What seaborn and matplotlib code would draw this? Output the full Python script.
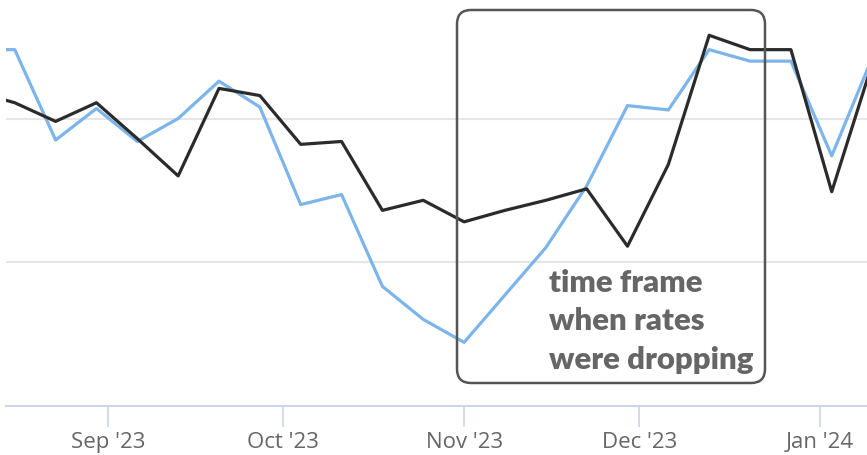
import matplotlib
matplotlib.use("Agg")
import matplotlib.pyplot as plt
import matplotlib.dates as mdates
import matplotlib.transforms as mtransforms
from matplotlib.patches import FancyBboxPatch
import numpy as np
import pandas as pd
import seaborn as sns

# weekly readings (arbitrary index units, no y labels in the original)
dates = pd.date_range("2023-08-09", "2024-01-10", freq="7D")
blue_vals = [2.48, 2.48, 1.85, 2.07, 1.84, 2.00, 2.26, 2.08, 1.40, 1.47, 0.83, 0.60,
             0.44, 0.77, 1.10, 1.53, 2.09, 2.06, 2.48, 2.40, 2.40, 1.74, 2.43]
black_vals = [2.19, 2.11, 1.98, 2.11, 1.86, 1.60, 2.21, 2.16, 1.82, 1.84, 1.36, 1.43,
              1.28, 1.36, 1.43, 1.51, 1.11, 1.68, 2.58, 2.48, 2.48, 1.49, 2.39]
series_names = ["blue", "black"]
tick_dates = pd.to_datetime(["2023-09-01", "2023-10-01", "2023-11-01", "2023-12-01", "2024-01-01"])
note = "time frame\nwhen rates\nwere dropping"

df = pd.DataFrame({
    "date": list(dates) * 2,
    "value": blue_vals + black_vals,
    "series": [series_names[0]] * len(dates) + [series_names[1]] * len(dates),
})

sns.set_style("white")
plt.rcParams["font.family"] = ["Open Sans", "DejaVu Sans"]

W, H = 867, 455
fig = plt.figure(figsize=(W / 100, H / 100), dpi=100)
ax = fig.add_axes([6 / W, 49.5 / H, 861 / W, 405.5 / H])

sns.lineplot(data=df, x="date", y="value", hue="series",
             palette={"blue": "#7cb5ec", "black": "#2b2b2b"},
             linewidth=2.3, legend=False, ax=ax, zorder=3)

ax.set_xlim(pd.Timestamp("2023-08-14 12:00"), pd.Timestamp("2024-01-09 01:00"))
ax.set_ylim(0, 2.826)
ax.set_yticks([1, 2])
ax.set_yticklabels([])
ax.tick_params(axis="y", length=0)
ax.grid(axis="y", color="#e6e6e6", linewidth=1.5)
ax.set_axisbelow(True)

ax.set_xticks(tick_dates)
ax.xaxis.set_major_formatter(mdates.DateFormatter("%b '%y"))
ax.tick_params(axis="x", bottom=True, length=15, width=1.2, color="#ccd6eb",
               labelsize=16, labelcolor="#666666", pad=4)
ax.set_xlabel("")
ax.set_ylabel("")

for side in ["top", "right", "left"]:
    ax.spines[side].set_visible(False)
ax.spines["bottom"].set_color("#ccd6eb")
ax.spines["bottom"].set_linewidth(1.5)

# annotation box, drawn in pixel coordinates
box = FancyBboxPatch((457, H - 383), 308, 373,
                     boxstyle="round,pad=0,rounding_size=14",
                     transform=mtransforms.IdentityTransform(),
                     facecolor="none", edgecolor="#555555", linewidth=1.8, zorder=5)
fig.patches.append(box)

fig.text(549 / W, 1 - 269 / H, note, ha="left", va="top",
         fontsize=22.4, fontweight="heavy", color="#666666",
         family=["Lato", "DejaVu Sans"], linespacing=1.45)

fig.savefig("out.png", dpi=100)
